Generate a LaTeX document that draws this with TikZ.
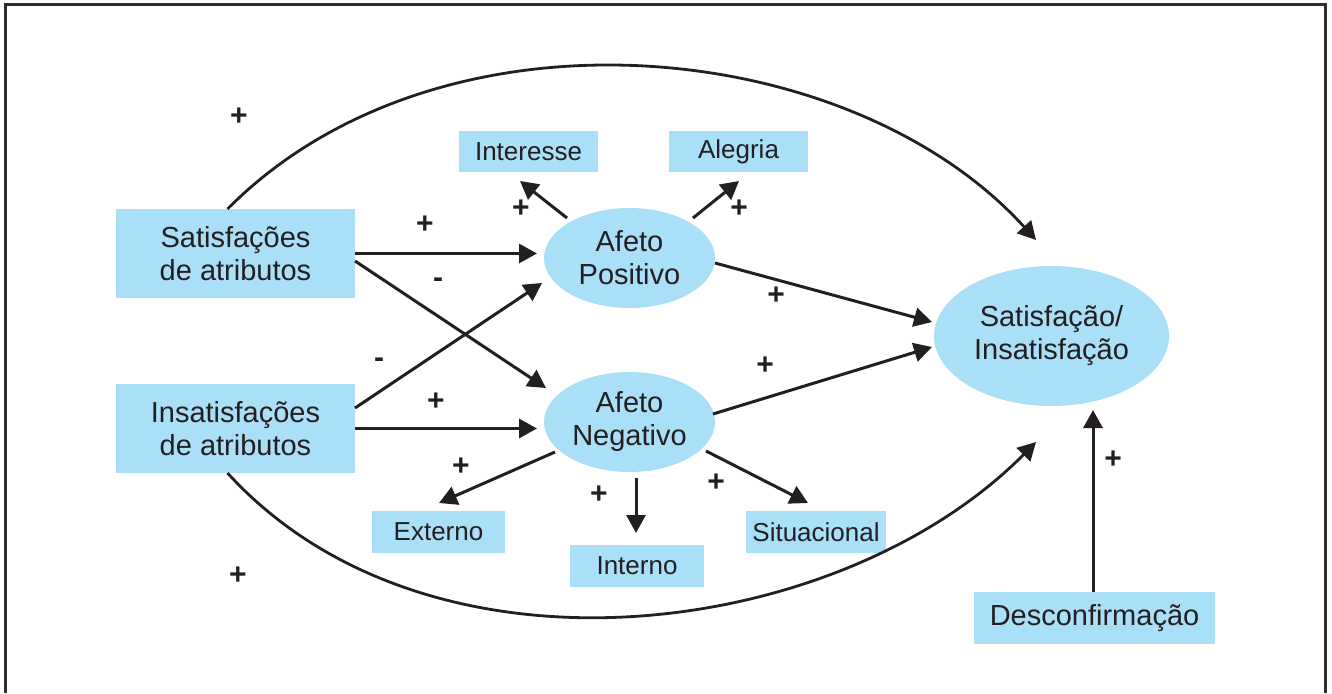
\documentclass[tikz,border=0pt]{standalone}
\usepackage{fontspec}
\setmainfont{Liberation Sans}
\usetikzlibrary{arrows.meta,shapes.geometric}
\definecolor{boxblue}{RGB}{170,223,248}
\definecolor{ink}{RGB}{35,31,32}
\definecolor{framecol}{RGB}{45,45,45}
\tikzset{
  big/.style={font=\fontsize{29}{33}\selectfont},
  small/.style={font=\fontsize{26}{30}\selectfont},
  box/.style={rectangle, fill=boxblue, inner sep=0pt, outer sep=0pt, text=ink, align=center},
  oval/.style={ellipse, fill=boxblue, inner sep=0pt, outer sep=0pt, text=ink, align=center, big},
  arr/.style={draw=ink, line width=3pt, -{Triangle[length=18pt,width=19pt]}},
  sign/.style={text=ink, inner sep=0pt, font=\fontsize{30}{32}\selectfont\bfseries}
}
\begin{document}
\begin{tikzpicture}[x=1pt,y=-1pt]
\useasboundingbox (0,0) rectangle (1332,693);
\draw[framecol, line width=3pt] (5,693) -- (5,5) -- (1325,5) -- (1325,693);

% nodes
\node[box, big, minimum width=239pt, minimum height=89pt] (sa) at (235.5,253.5) {Satisfações\\de atributos};
\node[box, big, minimum width=239pt, minimum height=89pt] (ia) at (235.5,428.5) {Insatisfações\\de atributos};
\node[box, small, minimum width=139pt, minimum height=41pt] (int) at (528.5,151.5) {Interesse};
\node[box, small, minimum width=139pt, minimum height=41pt] (ale) at (738.5,151.5) {Alegria};
\node[box, small, minimum width=133pt, minimum height=42pt] (ext) at (438.5,532) {Externo};
\node[box, small, minimum width=134pt, minimum height=42pt] (inn) at (637,566) {Interno};
\node[box, small, minimum width=140pt, minimum height=42pt] (sit) at (816,532) {Situacional};
\node[box, big, minimum width=241pt, minimum height=52pt] (des) at (1094.5,618) {Desconfirmação};
\node[oval, minimum width=171pt, minimum height=100pt] (ap) at (629.5,258) {Afeto\\Positivo};
\node[oval, minimum width=171pt, minimum height=100pt] (an) at (629.5,422) {Afeto\\Negativo};
\node[oval, minimum width=235pt, minimum height=140pt] (si) at (1051.5,336) {Satisfação/\\Insatisfação};

% connectors
\draw[arr, shorten >=7pt] (sa.east) -- (sa.east -| ap.west);
\draw[arr] ([yshift=-7.5pt]sa.east) -- ([xshift=-83.5pt,yshift=34pt]an.center);
\draw[arr] ([yshift=20.5pt]ia.east) -- ([xshift=-87.5pt,yshift=-25pt]ap.center);
\draw[arr, shorten >=7pt] (ia.east) -- (ia.east -| an.west);
\draw[arr] ([xshift=-62.5pt,yshift=40pt]ap.center) -- ([xshift=-8.5pt,yshift=-9pt]int.south);
\draw[arr] ([xshift=63.5pt,yshift=40pt]ap.center) -- ([xshift=0.5pt,yshift=-9pt]ale.south);
\draw[arr] ([xshift=85.5pt,yshift=-5pt]ap.center) -- ([xshift=-119.5pt,yshift=14pt]si.center);
\draw[arr] ([xshift=83.5pt,yshift=8pt]an.center) -- ([xshift=-119.5pt,yshift=-11pt]si.center);
\draw[arr] ([xshift=-74.5pt,yshift=-30pt]an.center) -- ([xshift=0.5pt,yshift=8pt]ext.north);
\draw[arr] ([xshift=6.5pt,yshift=-56pt]an.center) -- ([xshift=-1pt,yshift=12pt]inn.north);
\draw[arr] ([xshift=76.5pt,yshift=-29pt]an.center) -- ([xshift=-8pt,yshift=8pt]sit.north);
\draw[arr, shorten >=4pt] ([xshift=-1.5pt]des.north) -- ([xshift=-1.5pt]des.north |- si.south);
\draw[arr, line width=2.8pt] ([xshift=-8pt]sa.north) .. controls (440,-5) and (850,35) .. ([xshift=-15.5pt,yshift=96pt]si.center);
\draw[arr, line width=2.8pt] ([xshift=-8pt]ia.south) .. controls (430,695) and (840,640) .. ([xshift=-15.5pt,yshift=-106pt]si.center);

% signs
\node[sign] (s1) at (239,117) {+};
\node[sign] (s2) at (238,576) {+};
\node[sign] (s3) at (425,225) {+};
\node[sign] (s4) at (438,283) {-};
\node[sign] (s5) at (379,363) {-};
\node[sign] (s6) at (436,402) {+};
\node[sign] (s7) at (521,209) {+};
\node[sign] (s8) at (739,209) {+};
\node[sign] (s9) at (776,296) {+};
\node[sign] (s10) at (765,366) {+};
\node[sign] (s11) at (461,467) {+};
\node[sign] (s12) at (599,495) {+};
\node[sign] (s13) at (716,483) {+};
\node[sign] (s14) at (1113,460) {+};
\end{tikzpicture}
\end{document}
